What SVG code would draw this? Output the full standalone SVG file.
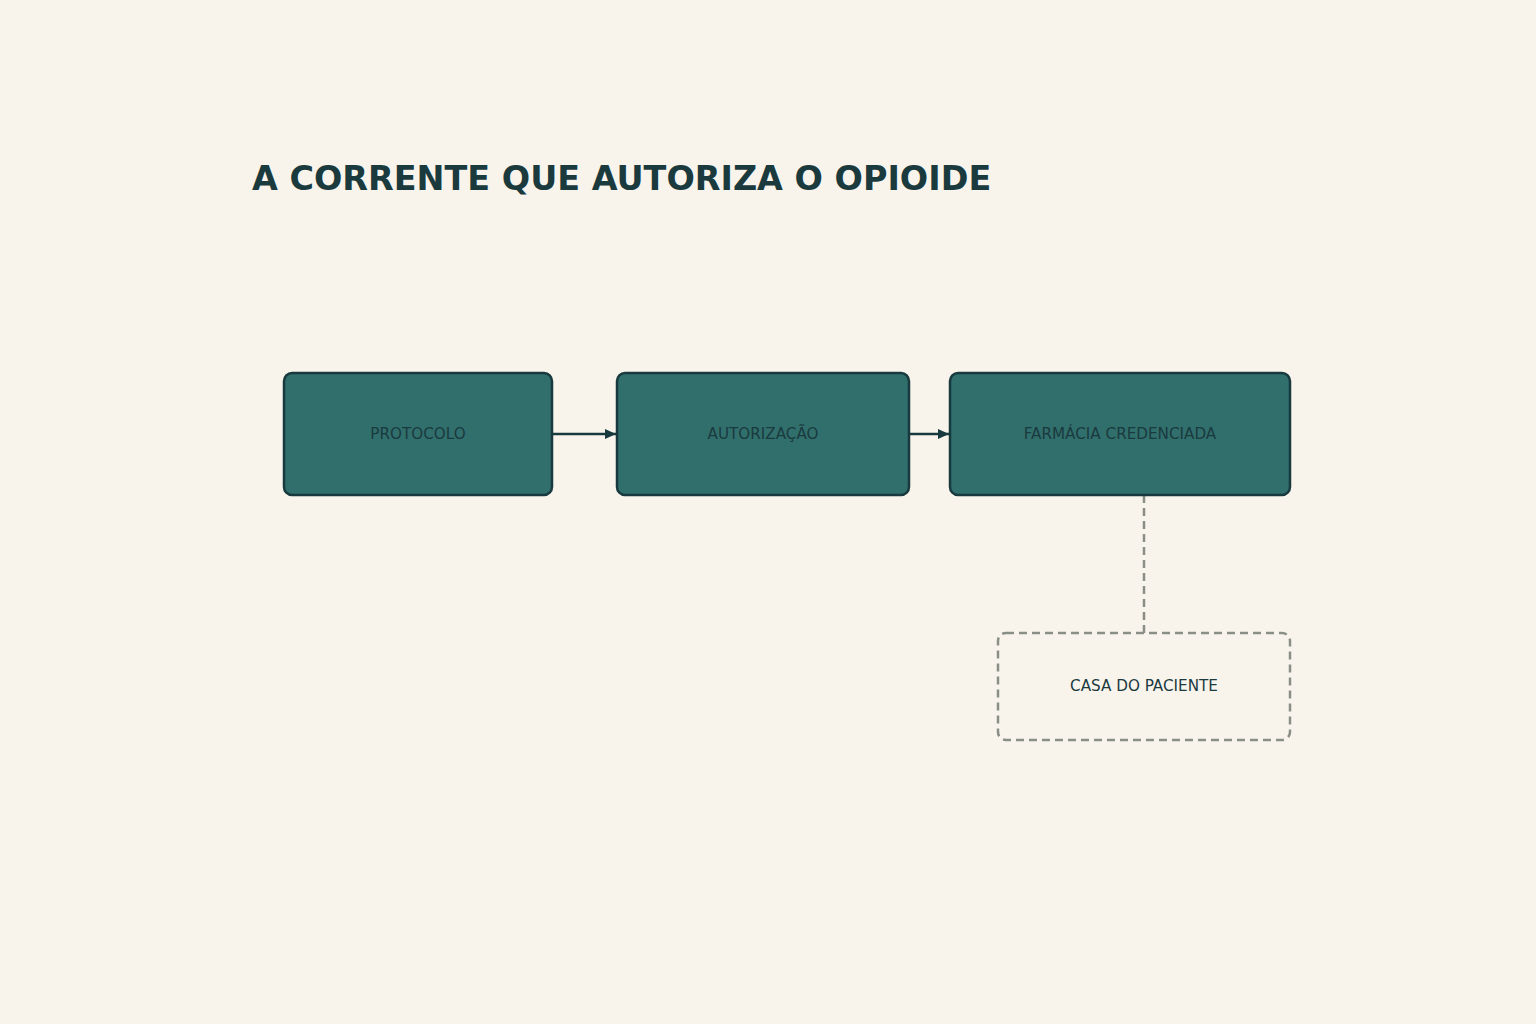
<svg xmlns="http://www.w3.org/2000/svg" width="1536" height="1024" viewBox="0 0 1536 1024">
<defs>
<style>
.bg{fill:#f8f4ec}
.title{font-family:"DejaVu Sans",sans-serif;font-weight:bold;font-size:33.4px;fill:#1a3a3e}
.node rect{fill:#316f6d;stroke:#183a3e;stroke-width:2.5}
.lbl{font-family:"DejaVu Sans",sans-serif;font-size:15.2px;fill:#1a3a3e;text-anchor:middle;dominant-baseline:central}
.ghost rect{fill:#f8f4ec;stroke:#8a8f86;stroke-width:2.5;stroke-dasharray:8 5}
.arrow{stroke:#183a3e;stroke-width:2.5;fill:none}
.dash{stroke:#8a8f86;stroke-width:2.5;stroke-dasharray:8 5;fill:none}
</style>
<marker id="ah" markerWidth="12" markerHeight="12" refX="11" refY="6" orient="auto" markerUnits="userSpaceOnUse">
<path d="M0,1 L11,6 L0,11 z" fill="#183a3e"/>
</marker>
</defs>
<rect class="bg" x="0" y="0" width="1536" height="1024"/>
<text class="title" x="252" y="190">A CORRENTE QUE AUTORIZA O OPIOIDE</text>
<g id="connectors">
<line class="arrow" x1="553" y1="434" x2="616" y2="434" marker-end="url(#ah)"/>
<line class="arrow" x1="909" y1="434" x2="949" y2="434" marker-end="url(#ah)"/>
<line class="dash" x1="1144" y1="495" x2="1144" y2="633"/>
</g>
<g id="protocolo" class="node">
<rect x="284" y="373" width="268" height="122" rx="8"/>
<text class="lbl" x="418" y="434">PROTOCOLO</text>
</g>
<g id="autorizacao" class="node">
<rect x="617" y="373" width="292" height="122" rx="8"/>
<text class="lbl" x="763" y="434">AUTORIZAÇÃO</text>
</g>
<g id="farmacia" class="node">
<rect x="950" y="373" width="340" height="122" rx="8"/>
<text class="lbl" x="1120" y="434">FARMÁCIA CREDENCIADA</text>
</g>
<g id="casa" class="ghost">
<rect x="998" y="633" width="292" height="107" rx="8"/>
<text class="lbl" x="1144" y="686">CASA DO PACIENTE</text>
</g>
</svg>
